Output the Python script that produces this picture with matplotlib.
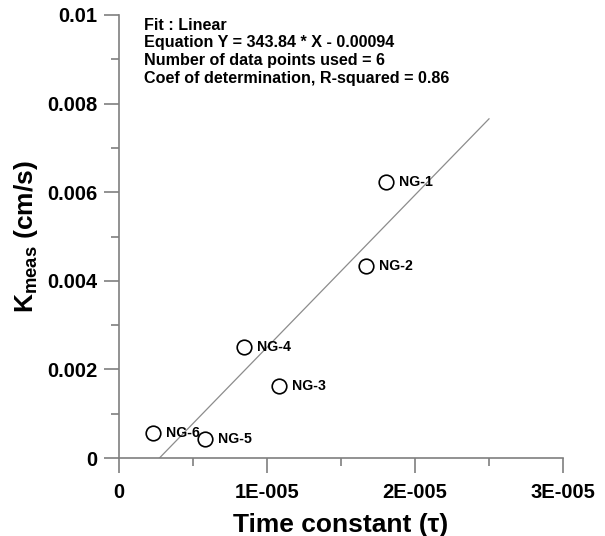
import matplotlib
matplotlib.use("Agg")
import matplotlib.pyplot as plt
import numpy as np
from matplotlib.ticker import MultipleLocator

plt.rcParams['font.family'] = ['Liberation Sans', 'DejaVu Sans']
plt.rcParams['mathtext.fontset'] = 'custom'
plt.rcParams['mathtext.rm'] = 'Liberation Sans:bold'
plt.rcParams['mathtext.it'] = 'Liberation Sans:bold'
plt.rcParams['mathtext.bf'] = 'Liberation Sans:bold'

# Data
names = ["NG-1", "NG-2", "NG-3", "NG-4", "NG-5", "NG-6"]
tau = [1.804e-5, 1.667e-5, 1.081e-5, 0.845e-5, 0.581e-5, 0.228e-5]
kmeas = [0.00622, 0.00433, 0.00162, 0.00250, 0.00043, 0.00057]
slope = 343.84
intercept = -0.00094
fit_x_range = [-intercept / slope, 2.5e-5]
fit_lines = ["Fit : Linear",
             "Equation Y = 343.84 * X - 0.00094",
             "Number of data points used = 6",
             "Coef of determination, R-squared = 0.86"]
xticks = [0, 1e-5, 2e-5, 3e-5]
xticklabels = ["0", "1E-005", "2E-005", "3E-005"]
yticks = [0, 0.002, 0.004, 0.006, 0.008, 0.01]
yticklabels = ["0", "0.002", "0.004", "0.006", "0.008", "0.01"]

fig = plt.figure(figsize=(6.05, 5.36), dpi=100)
ax = fig.add_axes([119/605, 1-458/536, 444/605, 443/536])

axis_col = '#7f7f7f'
fx = np.array(fit_x_range)
ax.plot(fx, slope*fx + intercept, color='#8c8c8c', lw=0.9, zorder=1)
ax.plot(tau, kmeas, 'o', ms=10.5, mfc='white', mec='black', mew=1.2, zorder=3,
        clip_on=False)
for n, x, y in zip(names, tau, kmeas):
    ax.annotate(n, (x, y), xytext=(9.5, 0), textcoords='offset points',
                ha='left', va='center', fontsize=10.2, fontweight='bold', zorder=4)

ax.set_xlim(0, 3e-5)
ax.set_ylim(0, 0.01)
ax.set_xticks(xticks)
ax.set_xticklabels(xticklabels)
ax.set_yticks(yticks)
ax.set_yticklabels(yticklabels)
ax.xaxis.set_minor_locator(MultipleLocator(0.5e-5))
ax.yaxis.set_minor_locator(MultipleLocator(0.001))
for s in ['top', 'right']:
    ax.spines[s].set_visible(False)
for s in ['left', 'bottom']:
    ax.spines[s].set_color(axis_col)
    ax.spines[s].set_linewidth(1.2)
ax.tick_params(which='major', direction='out', length=10.5, width=1.2,
               color=axis_col, labelsize=14.5)
ax.tick_params(axis='y', which='major', pad=5)
ax.tick_params(axis='x', which='major', pad=7.5)
ax.tick_params(which='minor', direction='out', length=5.5, width=1.2,
               color=axis_col)
for lab in ax.get_xticklabels() + ax.get_yticklabels():
    lab.set_fontweight('bold')

ax.set_xlabel("Time constant (τ)", fontsize=19, fontweight='bold', labelpad=8)
ax.set_ylabel(r"$\mathrm{K_{meas}}$ (cm/s)", fontsize=19, fontweight='bold', labelpad=5)

for i, line in enumerate(fit_lines):
    ax.text((144-119)/444, (458-25-18*i)/443, line, transform=ax.transAxes,
            ha='left', va='center', fontsize=11.6, fontweight='bold')

fig.savefig("out.png", dpi=100)
